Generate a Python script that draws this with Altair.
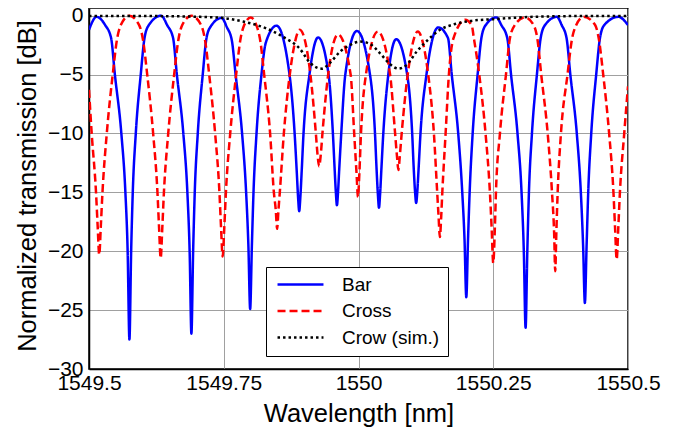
import altair as alt
import pandas as pd

# ---------------- data ----------------
series_names = ["Bar", "Cross", "Crow (sim.)"]
series_colors = ["#0000ff", "#ff0000", "#000000"]
series_dashes = [[1, 0], [8, 4], [2.5, 3]]

x_ticks = [1549.5, 1549.75, 1550.0, 1550.25, 1550.5]
y_ticks = [-30, -25, -20, -15, -10, -5, 0]

bar_nm = [
    1549.500, 1549.514,
    1549.530, 1549.541, 1549.548, 1549.560, 1549.5675, 1549.5717, 1549.575,
    1549.5782, 1549.5812, 1549.5868, 1549.596, 1549.603, 1549.611, 1549.634,
    1549.645, 1549.656, 1549.663, 1549.675, 1549.6825, 1549.6867, 1549.690,
    1549.6932, 1549.6962, 1549.7018, 1549.711, 1549.718, 1549.726, 1549.746,
    1549.756, 1549.765, 1549.772, 1549.784, 1549.7915, 1549.7957, 1549.799,
    1549.8022, 1549.8052, 1549.8108, 1549.820, 1549.828, 1549.848,
    1549.872, 1549.8815, 1549.8855, 1549.888, 1549.890,
    1549.892, 1549.8945, 1549.898, 1549.909, 1549.925,
    1549.9445, 1549.9525, 1549.9557, 1549.958, 1549.960,
    1549.962, 1549.9643, 1549.968, 1549.9755, 1549.997,
    1550.0213, 1550.0306, 1550.0335, 1550.036, 1550.038,
    1550.040, 1550.0425, 1550.046, 1550.0553, 1550.070,
    1550.0903, 1550.0996, 1550.1025, 1550.105, 1550.107,
    1550.109, 1550.1115, 1550.115, 1550.1261, 1550.148,
    1550.166, 1550.173, 1550.185, 1550.1925, 1550.1967, 1550.200,
    1550.2032, 1550.2062, 1550.2118, 1550.221, 1550.228, 1550.236, 1550.256,
    1550.265, 1550.276, 1550.283, 1550.295, 1550.3025, 1550.3067, 1550.310,
    1550.3132, 1550.3162, 1550.3218, 1550.331, 1550.338, 1550.346, 1550.368,
    1550.377, 1550.386, 1550.393, 1550.405, 1550.4125, 1550.4167, 1550.420,
    1550.4232, 1550.4262, 1550.4318, 1550.441, 1550.448, 1550.456, 1550.482, 1550.500,
]
bar_db = [
    -1.2, -0.1,
    -0.8, -1.9, -5, -10, -15, -20, -27.5,
    -20, -15, -10, -5, -1.9, -0.8, 0.0,
    -0.8, -1.9, -5, -10, -15, -20, -27.0,
    -20, -15, -10, -5, -1.9, -0.9, -0.2,
    -1.0, -2.1, -5, -10, -15, -19.5, -24.9,
    -19.5, -15, -10, -5, -2.3, -0.85,
    -5, -10, -13.3, -15.5, -16.6,
    -15.5, -13.3, -10, -5, -1.85,
    -5, -10, -13, -15, -16.1,
    -15, -13, -10, -5, -1.3,
    -5, -10, -13, -15.2, -16.3,
    -15.2, -13, -10, -5, -2.0,
    -5, -10, -13, -15, -15.9,
    -15, -13, -10, -5, -1.0,
    -1.9, -5, -10, -15, -19, -23.9,
    -19, -15, -10, -5, -1.9, -0.8, -0.15,
    -0.8, -1.9, -5, -10, -15, -20, -26.5,
    -20, -15, -10, -5, -1.9, -0.8, -0.1,
    -0.8, -1.9, -5, -10, -15, -19.5, -24.4,
    -19.5, -15, -10, -5, -1.9, -0.8, -0.1, -0.8,
]

cross_nm = [
    1549.500, 1549.505, 1549.513, 1549.516, 1549.519,
    1549.522, 1549.525, 1549.533, 1549.544, 1549.552, 1549.559, 1549.575,
    1549.593, 1549.600, 1549.608, 1549.619, 1549.627, 1549.630, 1549.633,
    1549.636, 1549.639, 1549.647, 1549.658, 1549.666, 1549.673, 1549.690,
    1549.708, 1549.715, 1549.723, 1549.734, 1549.742, 1549.745, 1549.748,
    1549.751, 1549.754, 1549.762, 1549.773, 1549.781, 1549.788, 1549.800,
    1549.812, 1549.818, 1549.825, 1549.836, 1549.843, 1549.8465, 1549.849,
    1549.8515, 1549.854, 1549.8615, 1549.8725, 1549.881, 1549.891,
    1549.9108, 1549.9209, 1549.924, 1549.927,
    1549.930, 1549.9331, 1549.9437, 1549.962,
    1549.9854, 1549.992, 1549.9965, 1549.999,
    1550.0015, 1550.0046, 1550.0138, 1550.036,
    1550.0586, 1550.0679, 1550.0715, 1550.074,
    1550.0765, 1550.0801, 1550.0913, 1550.110,
    1550.121, 1550.1293, 1550.1399, 1550.146, 1550.1485, 1550.151,
    1550.1535, 1550.1555, 1550.1616, 1550.1677, 1550.1757, 1550.198,
    1550.210, 1550.214, 1550.224, 1550.2357, 1550.2438, 1550.247, 1550.250,
    1550.253, 1550.255, 1550.2624, 1550.2736, 1550.281, 1550.290, 1550.309,
    1550.325, 1550.332, 1550.339, 1550.351, 1550.359, 1550.363, 1550.365,
    1550.367, 1550.3695, 1550.3756, 1550.3878, 1550.396, 1550.404, 1550.418,
    1550.439, 1550.446, 1550.454, 1550.465, 1550.473, 1550.476, 1550.479,
    1550.482, 1550.485, 1550.493, 1550.500,
]
cross_db = [
    -6.3, -10, -15, -17.8, -20.3,
    -17.8, -15, -10, -5, -2, -0.8, 0.0,
    -0.8, -2, -5, -10, -15, -18, -20.6,
    -18, -15, -10, -5, -2, -0.8, 0.0,
    -0.8, -2, -5, -10, -15, -18, -20.45,
    -18, -15, -10, -5, -2, -0.8, -0.15,
    -1.0, -2.2, -5, -10, -15, -16.5, -18.1,
    -16.5, -15, -10, -5, -2.5, -1.2,
    -5, -10, -11.8, -12.8,
    -11.8, -10, -5, -1.6,
    -5, -10, -13.5, -15.4,
    -13.5, -10, -5, -1.35,
    -5, -10, -12, -13.1,
    -12, -10, -5, -1.35,
    -2.6, -5, -10, -15, -17, -18.8,
    -17, -15, -10, -5, -2, -0.35,
    -0.8, -1.9, -5, -10, -15, -18, -21.0,
    -18, -15, -10, -5, -1.9, -0.8, -0.15,
    -0.8, -2, -5, -10, -15, -18.5, -21.7,
    -18.5, -15, -10, -5, -2, -0.8, -0.1,
    -0.8, -2, -5, -10, -15, -18, -20.7,
    -18, -15, -10, -6.0,
]

crow_nm = [
    1549.500, 1549.600, 1549.706, 1549.749, 1549.786, 1549.830, 1549.860,
    1549.891, 1549.910, 1549.932, 1549.947, 1549.966, 1549.984, 1550.003,
    1550.021, 1550.040, 1550.058, 1550.074, 1550.089, 1550.108, 1550.130,
    1550.151, 1550.176, 1550.207, 1550.250, 1550.300, 1550.337, 1550.420, 1550.500,
]
crow_db = [
    -0.02, -0.03, -0.1, -0.2, -0.5, -1.1, -1.8,
    -2.8, -4.0, -4.5, -4.0, -3.05, -2.5, -2.2,
    -2.4, -3.2, -4.1, -4.5, -4.2, -3.05, -2.0,
    -1.2, -0.75, -0.45, -0.3, -0.15, -0.08, -0.03, -0.02,
]

frames = []
for name, xs, ys in [(series_names[0], bar_nm, bar_db),
                     (series_names[1], cross_nm, cross_db),
                     (series_names[2], crow_nm, crow_db)]:
    frames.append(pd.DataFrame({"nm": xs, "db": ys, "series": name}))
df = pd.concat(frames, ignore_index=True)

FONT = "Liberation Sans"

color = alt.Color(
    "series:N",
    scale=alt.Scale(domain=series_names, range=series_colors),
    legend=alt.Legend(
        title=None, orient="none", legendX=177, legendY=259,
        symbolType="M-4,0H4", symbolSize=132, symbolStrokeWidth=2.5,
        symbolOffset=17, labelOffset=32, padding=8, rowPadding=6.5,
        labelFontSize=19, labelFont=FONT, labelColor="black",
        strokeColor="black", fillColor="white", cornerRadius=0,
    ),
)
dash = alt.StrokeDash(
    "series:N",
    scale=alt.Scale(domain=series_names, range=series_dashes),
    legend=None,
)

x = alt.X(
    "nm:Q",
    scale=alt.Scale(domain=[1549.5, 1550.5], nice=False, zero=False),
    axis=alt.Axis(values=x_ticks, format=".6~g", title="Wavelength [nm]",
                  labelFlush=False, labelPadding=3, titleY=52,
                  titleBaseline="alphabetic"),
)
y = alt.Y(
    "db:Q",
    scale=alt.Scale(domain=[-30, 0.65], nice=False, zero=False),
    axis=alt.Axis(values=y_ticks, format="d", title="Normalized transmission [dB]",
                  labelPadding=6, titleX=-54, titleY=177.5, titleAngle=-90,
                  titleBaseline="alphabetic", titleAlign="center"),
)

base = alt.Chart(df).mark_line(strokeWidth=2.5, clip=True, interpolate="monotone").encode(
    x=x, y=y, color=color, strokeDash=dash
)

layers = [base.transform_filter(alt.datum.series == n) for n in series_names]

chart = alt.layer(*layers).properties(
    width=539, height=361,
    autosize=alt.AutoSizeParams(type="none"),
    padding={"left": 81, "top": 0, "right": 52, "bottom": 61},
    background="white",
).configure_axis(
    labelFont=FONT, titleFont=FONT, labelFontSize=21, titleFontSize=25.5,
    titleFontWeight="normal", labelColor="black", titleColor="black",
    domainColor="black", domainWidth=1.5, ticks=False,
    grid=True, gridColor="#a0a0a0", gridWidth=1,
).configure_view(stroke="black", strokeWidth=1.5)

chart.save("out.html", embed_options={"renderer": "svg", "actions": False})
